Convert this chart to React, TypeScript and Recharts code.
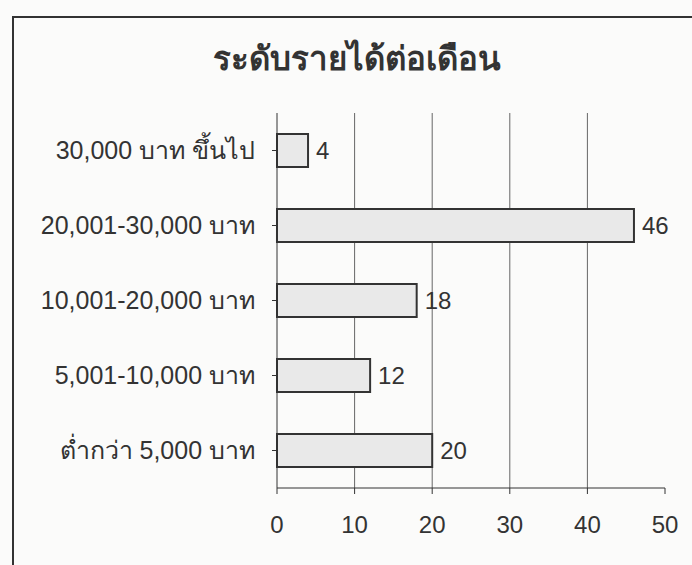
import { BarChart, Bar, XAxis, YAxis, CartesianGrid, LabelList } from 'recharts';

// income brackets, top to bottom as drawn
const incomeLevels = [
  '30,000 บาท ขึ้นไป',
  '20,001-30,000 บาท',
  '10,001-20,000 บาท',
  '5,001-10,000 บาท',
  'ต่ำกว่า 5,000 บาท',
];
const respondents = [4, 46, 18, 12, 20];
const xTicks = [0, 10, 20, 30, 40, 50];
const gridValues = [10, 20, 30, 40];

const data = incomeLevels.map((level, i) => ({ level, count: respondents[i] }));

const FONT = '"Liberation Sans", Arial, "Noto Sans", sans-serif';
const ink = '#333';

export default function App() {
  return (
    <div style={{ position: 'absolute', left: 0, top: 0, width: 692, height: 565, overflow: 'hidden', background: '#fbfbfa' }}>
      <div
        style={{
          position: 'absolute',
          left: 12,
          top: 16,
          width: 720,
          height: 600,
          border: `2px solid ${ink}`,
        }}
      />
      <div
        style={{
          position: 'absolute',
          left: 0,
          top: 32,
          width: 714,
          textAlign: 'center',
          fontFamily: FONT,
          fontWeight: 'bold',
          fontSize: 33,
          color: ink,
        }}
      >
        ระดับรายได้ต่อเดือน
      </div>
      <div style={{ position: 'absolute', left: 0, top: 0 }}>
        <BarChart
          width={692}
          height={565}
          data={data}
          layout="vertical"
          margin={{ top: 113, right: 27, bottom: 0, left: 0 }}
          barCategoryGap="28%"
        >
          <CartesianGrid horizontal={false} verticalValues={gridValues} stroke="#666" strokeWidth={1} />
          <XAxis
            type="number"
            domain={[0, 50]}
            ticks={xTicks}
            height={77}
            tickSize={6}
            tickMargin={22}
            stroke={ink}
            tick={{ fill: ink, fontSize: 24, fontFamily: FONT }}
          />
          <YAxis
            type="category"
            dataKey="level"
            width={277}
            tickSize={5}
            tickMargin={17}
            stroke={ink}
            tick={{ fill: ink, fontSize: 25, fontFamily: FONT }}
          />
          <Bar dataKey="count" fill="#e9e9e9" stroke={ink} strokeWidth={2} isAnimationActive={false}>
            <LabelList dataKey="count" position="right" offset={8} fill={ink} fontSize={24} fontFamily={FONT} />
          </Bar>
        </BarChart>
      </div>
    </div>
  );
}
